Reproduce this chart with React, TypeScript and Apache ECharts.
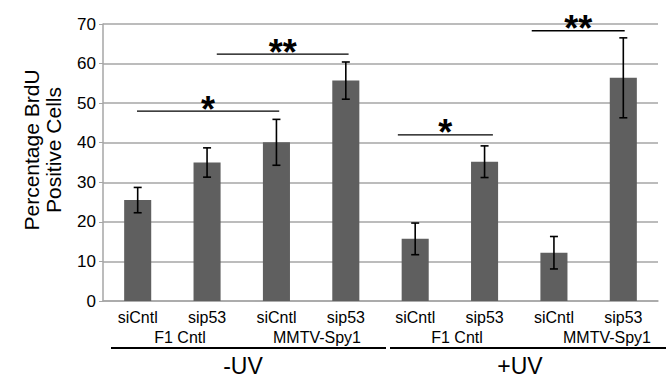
import React, { useEffect, useRef } from "react";
import * as echarts from "echarts";

const categories = ["siCntl", "sip53", "siCntl", "sip53", "siCntl", "sip53", "siCntl", "sip53"];
const means = [25.5, 35.0, 40.1, 55.7, 15.7, 35.2, 12.2, 56.4];
const errors = [3.2, 3.7, 5.8, 4.7, 4.0, 4.0, 4.1, 10.1];
const yTicks = [0, 10, 20, 30, 40, 50, 60, 70];
// significance brackets: [xStart, xEnd] in category units (0..8), y value, label
const sigStart = [0.49, 1.64, 4.25, 6.18];
const sigEnd = [2.54, 3.54, 5.62, 7.52];
const sigY = [48.0, 62.4, 42.0, 68.3];
const sigLabel = ["*", "**", "*", "**"];
const groupLabels = ["F1 Cntl", "MMTV-Spy1", "F1 Cntl", "MMTV-Spy1"];
const treatmentLabels = ["-UV", "+UV"];

const FONT = "Liberation Sans";

export default function App() {
  const ref = useRef<HTMLDivElement>(null);
  useEffect(() => {
    if (!ref.current) return;
    const chart = echarts.init(ref.current, null, { renderer: "svg" });
    const errData = means.map((m, i) => [i, m - errors[i], m + errors[i]]);
    const sigData = sigStart.map((s, i) => [s, sigEnd[i], sigY[i], i]);
    const small = { fontSize: 16, fontFamily: FONT, fill: "#000", align: "center", verticalAlign: "middle" };
    const big = { fontSize: 23, fontFamily: FONT, fill: "#000", align: "center", verticalAlign: "middle" };
    chart.setOption({
      animation: false,
      textStyle: { fontFamily: FONT },
      grid: { left: 103, right: 13, top: 24, bottom: 80 },
      xAxis: [
        {
          type: "category",
          data: categories,
          axisLine: { show: true, lineStyle: { color: "#a6a6a6", width: 1.5 } },
          axisTick: { show: false },
          axisLabel: { color: "#000", fontSize: 16, fontFamily: FONT, margin: 8, interval: 0 },
        },
        { type: "value", min: 0, max: 8, show: false },
      ],
      yAxis: {
        type: "value",
        min: 0,
        max: 70,
        interval: 10,
        axisLine: { show: true, lineStyle: { color: "#a6a6a6", width: 1.5 } },
        axisTick: { show: true, length: 4, lineStyle: { color: "#a6a6a6" } },
        axisLabel: { color: "#000", fontSize: 17, fontFamily: FONT, margin: 7 },
        splitLine: { lineStyle: { color: "#a6a6a6", width: 1.5 } },
      },
      series: [
        {
          type: "bar",
          data: means,
          barWidth: "39%",
          itemStyle: { color: "#5f5f5f" },
          z: 2,
        },
        {
          type: "custom",
          data: errData,
          z: 3,
          renderItem: (params: any, api: any) => {
            const x = api.value(0);
            const lo = api.coord([x, api.value(1)]);
            const hi = api.coord([x, api.value(2)]);
            const cap = 4;
            const style = { stroke: "#000", lineWidth: 1.6 };
            return {
              type: "group",
              children: [
                { type: "line", shape: { x1: hi[0], y1: hi[1], x2: lo[0], y2: lo[1] }, style },
                { type: "line", shape: { x1: hi[0] - cap, y1: hi[1], x2: hi[0] + cap, y2: hi[1] }, style },
                { type: "line", shape: { x1: lo[0] - cap, y1: lo[1], x2: lo[0] + cap, y2: lo[1] }, style },
              ],
            };
          },
        },
        {
          type: "custom",
          xAxisIndex: 1,
          data: sigData,
          z: 4,
          renderItem: (params: any, api: any) => {
            const a = api.coord([api.value(0), api.value(2)]);
            const b = api.coord([api.value(1), api.value(2)]);
            const label = sigLabel[api.value(3)];
            return {
              type: "group",
              children: [
                { type: "line", shape: { x1: a[0], y1: a[1], x2: b[0], y2: b[1] }, style: { stroke: "#000", lineWidth: 1.3 } },
                {
                  type: "text",
                  x: (a[0] + b[0]) / 2,
                  y: a[1] + 16,
                  style: {
                    text: label,
                    fontSize: 36,
                    fontWeight: "bold",
                    fontFamily: FONT,
                    fill: "#000",
                    align: "center",
                    verticalAlign: "bottom",
                  },
                },
              ],
            };
          },
        },
      ],
      graphic: [
        {
          type: "text",
          x: 42,
          y: 150,
          rotation: Math.PI / 2,
          style: {
            text: "Percentage BrdU\nPositive Cells",
            fontSize: 21,
            lineHeight: 22,
            fontFamily: FONT,
            fill: "#000",
            align: "center",
            verticalAlign: "middle",
          },
        },
        { type: "text", x: 180, y: 337, style: { ...small, text: groupLabels[0] } },
        { type: "text", x: 317, y: 337, style: { ...small, text: groupLabels[1] } },
        { type: "text", x: 457, y: 337, style: { ...small, text: groupLabels[2] } },
        { type: "text", x: 607, y: 337, style: { ...small, text: groupLabels[3] } },
        { type: "line", shape: { x1: 111, y1: 348, x2: 386, y2: 348 }, style: { stroke: "#000", lineWidth: 2.2 } },
        { type: "line", shape: { x1: 390, y1: 348, x2: 666, y2: 348 }, style: { stroke: "#000", lineWidth: 2.2 } },
        { type: "text", x: 243, y: 366, style: { ...big, text: treatmentLabels[0] } },
        { type: "text", x: 520, y: 366, style: { ...big, text: treatmentLabels[1] } },
      ],
    });
    return () => chart.dispose();
  }, []);
  return <div ref={ref} style={{ width: 671, height: 381, position: "absolute", left: 0, top: 0 }} />;
}
